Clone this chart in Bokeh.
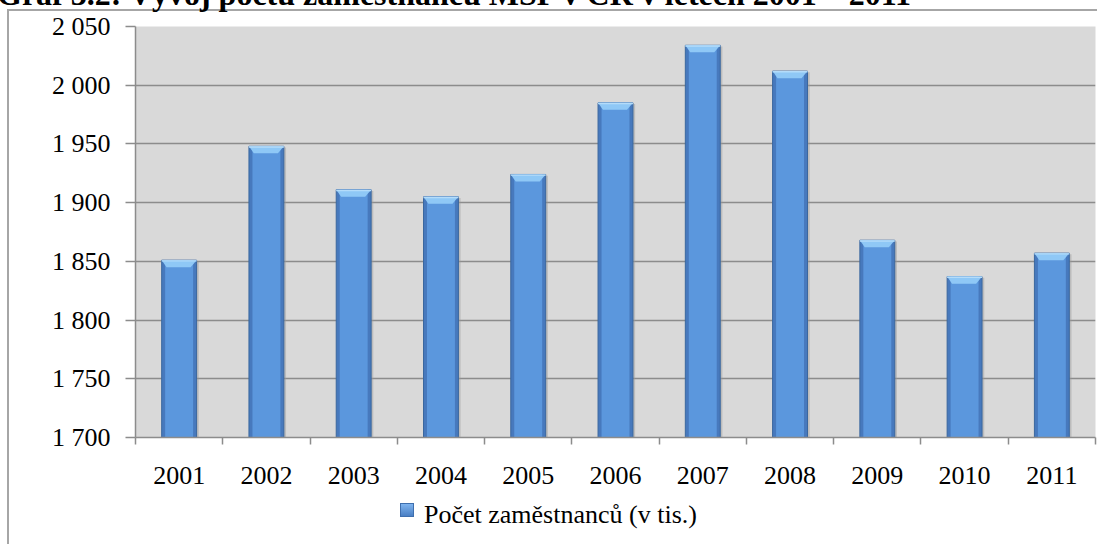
from bokeh.plotting import figure
from bokeh.models import FixedTicker, Div
from bokeh.layouts import column
from bokeh.embed import file_html
from bokeh.resources import INLINE

years = [2001, 2002, 2003, 2004, 2005, 2006, 2007, 2008, 2009, 2010, 2011]
values = [1851, 1948, 1911, 1905, 1924, 1985, 2034, 2012, 1868, 1837, 1857]
y_ticks = [1700, 1750, 1800, 1850, 1900, 1950, 2000, 2050]
y_tick_labels = ["1 700", "1 750", "1 800", "1 850", "1 900", "1 950", "2 000", "2 050"]
series_name = "Počet zaměstnanců (v tis.)"
title_text = "Graf 3.2: Vývoj počtu zaměstnanců MSP v ČR v letech 2001 – 2011"

FONT = "Liberation Serif"
GRID = "#8c8c8c"
BAR_W = 0.4

p = figure(frame_width=960, frame_height=411,
           min_border_left=135, min_border_right=3, min_border_top=26, min_border_bottom=100,
           x_range=(years[0] - 0.5, years[-1] + 0.5), y_range=(y_ticks[0], y_ticks[-1]),
           output_backend="svg", toolbar_location=None)
p.background_fill_color = "#d9d9d9"
p.border_fill_color = None
p.outline_line_color = None

p.xgrid.grid_line_color = None
p.ygrid.grid_line_color = GRID
p.ygrid.grid_line_width = 1.5
p.ygrid.ticker = FixedTicker(ticks=y_ticks)

# y axis
p.yaxis.ticker = FixedTicker(ticks=y_ticks, minor_ticks=[])
p.yaxis.major_label_overrides = {t: l for t, l in zip(y_ticks, y_tick_labels)}
p.yaxis.axis_line_color = GRID
p.yaxis.axis_line_width = 1.5
p.yaxis.major_tick_line_color = GRID
p.yaxis.major_tick_line_width = 1.5
p.yaxis.major_tick_out = 10
p.yaxis.major_tick_in = 0
p.yaxis.minor_tick_line_color = None
p.yaxis.major_label_standoff = 15
p.yaxis.major_label_text_font = FONT
p.yaxis.major_label_text_font_size = "26px"
p.yaxis.major_label_text_color = "black"

# x axis
bounds = [y - 0.5 for y in years] + [years[-1] + 0.5]
p.xaxis.ticker = FixedTicker(ticks=years, minor_ticks=bounds)
p.xaxis.major_label_overrides = {y: str(y) for y in years}
p.xaxis.axis_line_color = GRID
p.xaxis.axis_line_width = 1.5
p.xaxis.major_tick_line_color = None
p.xaxis.major_tick_out = 0
p.xaxis.major_tick_in = 0
p.xaxis.minor_tick_line_color = GRID
p.xaxis.minor_tick_line_width = 1.5
p.xaxis.minor_tick_out = 7
p.xaxis.minor_tick_in = 0
p.xaxis.major_label_standoff = 22
p.xaxis.major_label_text_font = FONT
p.xaxis.major_label_text_font_size = "26px"
p.xaxis.major_label_text_color = "black"

base = y_ticks[0]
shadow_x = [y + 0.025 for y in years]
p.vbar(x=shadow_x, top=[v - 1 for v in values], bottom=base, width=BAR_W,
       fill_color="#9a9a9a", fill_alpha=0.45, line_color=None)
p.vbar(x=years, top=values, bottom=base, width=BAR_W,
       fill_color="#4779bd", line_color="#3a679f", line_width=1)
p.vbar(x=years, top=values, bottom=base, width=BAR_W * 0.8,
       fill_color="#5b97dd", line_color=None)
# bevelled top of each bar (trapezoid)
bev_xs = [[x - BAR_W / 2, x + BAR_W / 2, x + BAR_W * 0.33, x - BAR_W * 0.36] for x in years]
bev_ys = [[v, v, v - 6, v - 6] for v in values]
p.patches(bev_xs, bev_ys, fill_color="#8fc8f6", line_color=None)
p.vbar(x=years, top=values, bottom=[v - 1.2 for v in values], width=BAR_W,
       fill_color="#b4dcfa", line_color=None)

title = Div(text=title_text,
            styles={"position": "absolute", "left": "-8px", "top": "-33px",
                    "white-space": "nowrap", "font-family": "'Liberation Serif'",
                    "font-weight": "bold", "font-size": "32px", "color": "black",
                    "z-index": "5"})
frame_div = Div(text="",
                styles={"position": "absolute", "left": "2px", "top": "4px",
                        "width": "1090px", "height": "535px", "box-sizing": "border-box",
                        "border-left": "2px solid #a6a6a6", "border-top": "2px solid #a6a6a6",
                        "z-index": "4", "pointer-events": "none"})
legend_key = Div(text="",
                 styles={"position": "absolute", "left": "395px", "top": "498px",
                         "width": "14px", "height": "14px", "box-sizing": "border-box",
                         "background": "linear-gradient(#7fb4ef, #4a7fc4)",
                         "border": "1px solid #3f6fae", "z-index": "5"})
legend_text = Div(text=series_name,
                  styles={"position": "absolute", "left": "419px", "top": "491px",
                          "white-space": "nowrap", "font-family": "'Liberation Serif'",
                          "font-size": "26px", "color": "black", "z-index": "5"})

layout = column(title, frame_div, legend_key, legend_text, p)
open("out.html", "w").write(file_html(layout, INLINE))
